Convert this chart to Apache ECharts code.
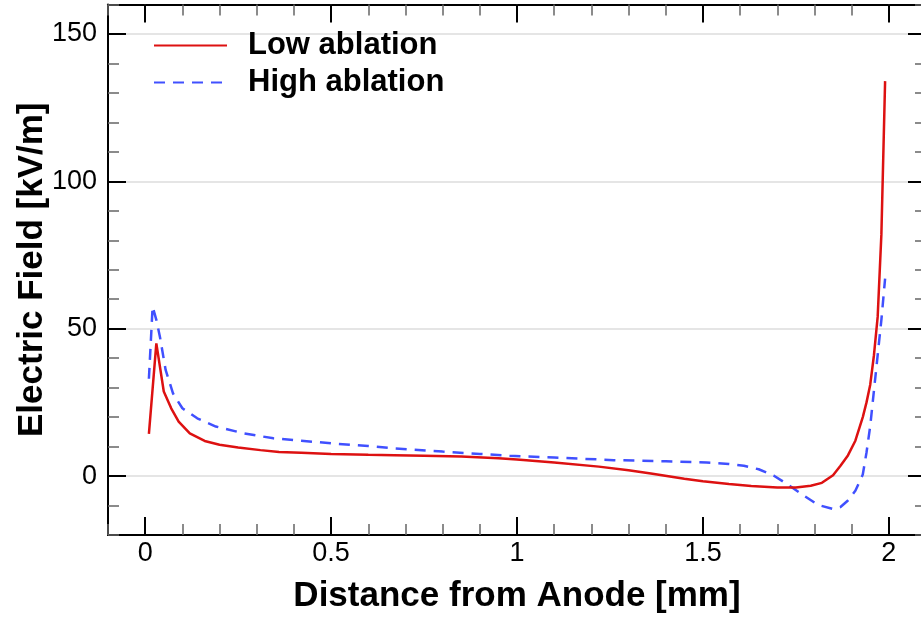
<!DOCTYPE html>
<html>
<head>
<meta charset="utf-8">
<script src="https://cdn.jsdelivr.net/npm/echarts@6/dist/echarts.min.js"></script>
<style>
html,body{margin:0;padding:0;background:#fff;}
#c{width:921px;height:617px;}
</style>
</head>
<body>
<div id="c"></div>
<script>
// ---- data ----
var seriesNames = ['Low ablation', 'High ablation'];
var xMajorTicks = [0, 0.5, 1, 1.5, 2];
var yMajorTicks = [0, 50, 100, 150];

var lowX = [0.01,0.03,0.05,0.07,0.09,0.12,0.16,0.2,0.25,0.31,0.36,0.42,0.5,0.6,0.67,0.75,0.85,0.95,1.0,1.1,1.22,1.3,1.36,1.45,1.5,1.57,1.63,1.7,1.75,1.79,1.82,1.85,1.87,1.89,1.91,1.93,1.94,1.95,1.96,1.97,1.98,1.99];
var lowY = [14.3,45,28.7,23,18.5,14.5,11.9,10.6,9.7,8.8,8.2,7.9,7.5,7.2,7.1,6.9,6.6,6.0,5.6,4.6,3.2,2.0,0.9,-0.9,-1.8,-2.7,-3.4,-3.9,-3.9,-3.3,-2.3,0.3,3.5,7,12,20,25,31,41,54,82,134];

var highX = [0.01,0.02,0.03,0.04,0.055,0.075,0.1,0.14,0.19,0.265,0.345,0.42,0.5,0.6,0.67,0.8,0.9,0.98,1.1,1.26,1.4,1.51,1.57,1.61,1.65,1.69,1.73,1.77,1.81,1.85,1.87,1.89,1.91,1.93,1.94,1.95,1.96,1.97,1.98,1.99];
var highY = [33,57.5,53,47,36,28,23,19.6,16.8,14.5,12.8,12.0,11.1,10.2,9.4,8.3,7.5,6.9,6.3,5.4,5.0,4.6,4.1,3.5,2.3,0.2,-3.0,-6.5,-9.8,-11.2,-10.5,-8.3,-5,0.5,8,17,29,41,53,67];

function pairs(xs, ys){ return xs.map(function(x,i){ return [x, ys[i]]; }); }

var X_MIN = -0.1, X_MAX = 2.1, Y_MIN = -20, Y_MAX = 160;
var MAJOR_LEN = 18, MINOR_LEN = 11;
var FONT = 'Liberation Sans, Arial, sans-serif';
var GRID_H = 530.5;

function xAx(pos, opts){
  var base = {
    type:'value', position:pos, min:X_MIN, max:X_MAX, interval:0.1,
    axisLine:{show:false, onZero:false}, splitLine:{show:false},
    axisTick:{show:true, inside:true, length:MINOR_LEN, lineStyle:{color:'#666', width:1.5}},
    axisLabel:{show:false}
  };
  return Object.assign(base, opts||{});
}
function yAx(pos, opts){
  var base = {
    type:'value', position:pos, min:Y_MIN, max:Y_MAX, interval:10,
    axisLine:{show:false, onZero:false}, splitLine:{show:false},
    axisTick:{show:true, inside:true, length:MINOR_LEN, lineStyle:{color:'#666', width:1.5}},
    axisLabel:{show:false}
  };
  return Object.assign(base, opts||{});
}

var majorTickX = {show:true, inside:true, length:MAJOR_LEN, customValues:xMajorTicks, lineStyle:{color:'#000', width:2}};
var majorTickY = {show:true, inside:true, length:MAJOR_LEN, customValues:yMajorTicks, lineStyle:{color:'#000', width:2}};
// tick sets for the bottom edge, drawn by top-positioned axes moved down to the bottom edge, pointing up
var minorTickXBottom = {show:true, inside:false, length:MINOR_LEN, lineStyle:{color:'#666', width:1.5}};
var majorTickXBottom = {show:true, inside:false, length:MAJOR_LEN, customValues:xMajorTicks, lineStyle:{color:'#000', width:2}};
var boxLine = {show:true, onZero:false, lineStyle:{color:'#000', width:2}};

var chart = echarts.init(document.getElementById('c'), null, {renderer:'canvas'});
chart.setOption({
  animation:false,
  backgroundColor:'#fff',
  grid:{left:108, top:4.5, width:818, height:GRID_H, containLabel:false, outerBoundsMode:'none'},
  legend:{
    orient:'vertical', left:153, top:30, padding:0,
    itemWidth:73, itemHeight:14, itemGap:6,
    data:seriesNames,
    itemStyle:{opacity:0},
    textStyle:{fontFamily:FONT, fontWeight:'bold', fontSize:31, color:'#000', lineHeight:31, padding:[0,0,0,16]}
  },
  xAxis:[
    // labels, box line and title (no ticks here)
    xAx('bottom', {
      name:'Distance from Anode [mm]', nameLocation:'middle', nameGap:44, nameMoveOverlap:false,
      nameTextStyle:{fontFamily:FONT, fontWeight:'bold', fontSize:35, color:'#000'},
      axisLine:boxLine,
      axisTick:{show:false},
      axisLabel:{show:true, margin:5, fontFamily:FONT, fontSize:27, color:'#000',
        formatter:function(v){ var r=Math.round(v*10)/10; return (Math.abs(r*2-Math.round(r*2))<1e-6) ? String(r) : ''; }}
    }),
    xAx('top', {offset:-GRID_H, axisTick:minorTickXBottom}),
    xAx('top', {offset:-GRID_H, axisTick:majorTickXBottom}),
    xAx('top', {axisLine:boxLine}),
    xAx('top', {axisTick:majorTickX})
  ],
  yAxis:[
    yAx('left', {
      name:'Electric Field [kV/m]', nameLocation:'middle', nameGap:58, nameMoveOverlap:false,
      nameTextStyle:{fontFamily:FONT, fontWeight:'bold', fontSize:35, color:'#000'},
      axisLine:boxLine,
      axisTick:{show:false},
      splitLine:{show:true, lineStyle:{color:['rgba(0,0,0,0)','rgba(0,0,0,0)','#dddddd','rgba(0,0,0,0)','rgba(0,0,0,0)'], width:1.5}},
      axisLabel:{show:true, margin:11, fontFamily:FONT, fontSize:27, color:'#000',
        formatter:function(v){ var r=Math.round(v); return (r%50===0) ? String(r) : ''; }}
    }),
    yAx('left'),
    yAx('left', {axisTick:majorTickY}),
    yAx('right', {axisLine:boxLine}),
    yAx('right', {axisTick:majorTickY})
  ],
  series:[
    {
      name:seriesNames[0], type:'line', xAxisIndex:0, yAxisIndex:0,
      data:pairs(lowX, lowY), symbol:'none', showSymbol:false,
      lineStyle:{color:'#dd1111', width:2.5}, itemStyle:{color:'#dd1111'}, z:3
    },
    {
      name:seriesNames[1], type:'line', xAxisIndex:0, yAxisIndex:0,
      data:pairs(highX, highY), symbol:'none', showSymbol:false,
      lineStyle:{color:'#4050ff', width:2.5, type:[11,8]}, itemStyle:{color:'#4050ff'}, z:2
    }
  ]
});
</script>
</body>
</html>
